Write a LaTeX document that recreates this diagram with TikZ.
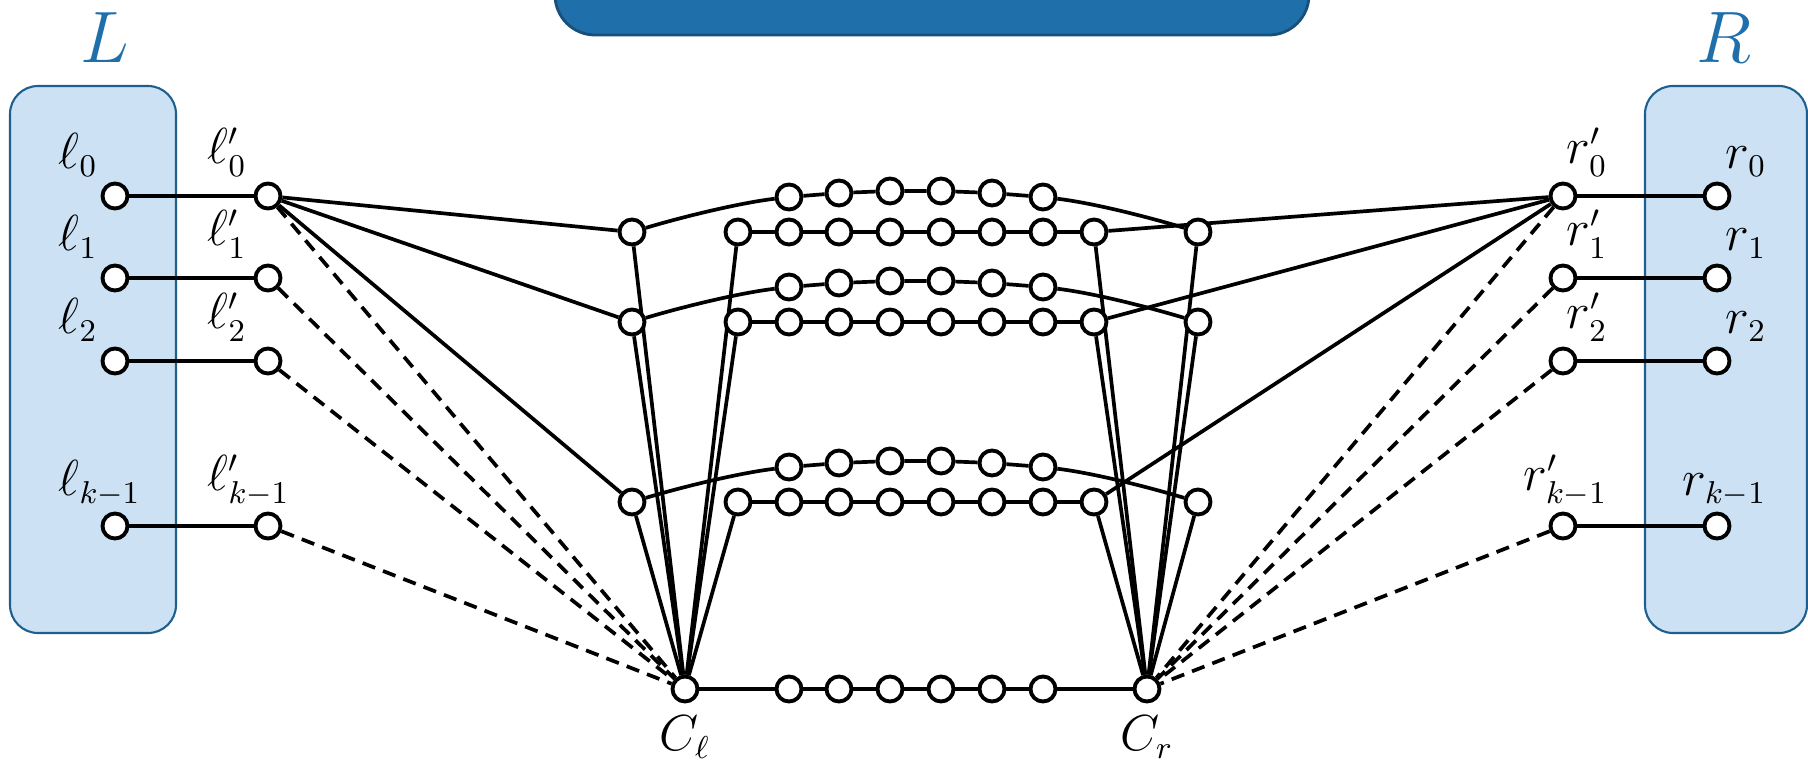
\documentclass[tikz,border=0pt]{standalone}
\usepackage{amsmath,amssymb}
\usepackage{xcolor}
\usepackage{tikz}
\usetikzlibrary{positioning,calc,backgrounds}
\definecolor{cBox}{HTML}{CCE2F4}
\definecolor{cBoxLine}{HTML}{1F5F8E}
\definecolor{cTitle}{HTML}{1F6FAA}
\definecolor{cTitleLine}{HTML}{18507A}
\pgfdeclarelayer{boxes}
\pgfsetlayers{boxes,background,main}
\tikzset{
  vtx/.style={circle, draw=black, line width=1.1pt, fill=white,
              inner sep=0pt, minimum size=2.5mm},
  setbox/.style={draw=cBoxLine, line width=0.6pt, fill=cBox, rounded corners=2.8mm},
  topbox/.style={draw=cTitleLine, line width=0.8pt, fill=cTitle, rounded corners=4mm},
  wire/.style={line width=1.05pt},
  dwire/.style={line width=1.05pt, dash pattern=on 3.8pt off 2.4pt},
  lbl/.style={font=\fontsize{13.5}{16}\selectfont, inner sep=0pt},
  setlbl/.style={font=\fontsize{21}{25}\selectfont, text=cTitle, inner sep=0pt}
}

\begin{document}
\begin{tikzpicture}[x=0.01cm, y=-0.01cm]
\path[use as bounding box, clip] (0,0) rectangle (1808,763);

% the two sets and the banner
\begin{pgfonlayer}{boxes}
\draw[setbox] (10,86) rectangle (176,633);
\draw[setbox] (1645,86) rectangle (1807,633);
\draw[topbox] (555,-60) rectangle (1309,35);
\end{pgfonlayer}
\node[setlbl] (nameL) at (105,38) {$L$};
\node[setlbl] (nameR) at (1724,38) {$R$};

% terminals
\foreach \i/\s/\y in {0/0/196, 1/1/278, 2/2/361, 3/k-1/526} {
  \node[vtx] (l\i) at (115,\y) {};
  \node[vtx] (lp\i) at (268,\y) {};
  \node[vtx] (rp\i) at (1563,\y) {};
  \node[vtx] (r\i) at (1717,\y) {};
  \node[lbl, anchor=south west] (tl\i) at ($(l\i)+(-57,-19)$) {$\ell_{\s}$};
  \node[lbl, anchor=south west] (tlp\i) at ($(lp\i)+(-61,-19)$) {$\ell'_{\s}$};
  \node[lbl, anchor=south east] (trp\i) at ($(rp\i)+(45,-19)$) {$r'_{\s}$};
  \node[lbl, anchor=south east] (tr\i) at ($(r\i)+(50,-19)$) {$r_{\s}$};
}

% three gadgets: straight row b..c, arched row a..d
\foreach \j/\y in {1/232, 2/322, 3/502} {
  \node[vtx] (a\j) at (632,\y) {};
  \node[vtx] (b\j) at (738,\y) {};
  \node[vtx] (c\j) at (1094,\y) {};
  \node[vtx] (d\j) at (1198,\y) {};
  \foreach \k/\x/\h in {1/789/35, 2/839/39, 3/890/41, 4/941/41, 5/992/39, 6/1043/35} {
    \node[vtx] (p\j\k) at (\x,\y) {};
    \node[vtx] (q\j\k) at (\x,\y-\h) {};
  }
}

% bottom path
\node[vtx] (Cl) at (685,689) {};
\node[vtx] (Cr) at (1147,689) {};
\foreach \k/\x in {1/789, 2/839, 3/890, 4/941, 5/992, 6/1043}
  \node[vtx] (z\k) at (\x,689) {};
\node[lbl, below=1.2mm of Cl] (tCl) {$C_\ell$};
\node[lbl, below=1.2mm of Cr] (tCr) {$C_r$};

\begin{scope}[on background layer]
\foreach \i in {0,...,3} {
  \draw[wire] (l\i) -- (lp\i);
  \draw[wire] (rp\i) -- (r\i);
  \draw[dwire] (lp\i) -- (Cl);
  \draw[dwire] (rp\i) -- (Cr);
}
\foreach \j in {1,2,3} {
  \draw[wire] (lp0) -- (a\j);
  \draw[wire] (rp0) -- (c\j);
  \draw[wire] (Cl) -- (a\j);
  \draw[wire] (Cl) -- (b\j);
  \draw[wire] (Cr) -- (c\j);
  \draw[wire] (Cr) -- (d\j);
  \draw[wire] (b\j) -- (p\j1) -- (p\j2) -- (p\j3) -- (p\j4) -- (p\j5) -- (p\j6) -- (c\j);
  \draw[wire] (a\j) .. controls +(50,-15) and +(-50,6) .. (q\j1) -- (q\j2) -- (q\j3)
    -- (q\j4) -- (q\j5) -- (q\j6) .. controls +(50,6) and +(-50,-15) .. (d\j);
}
\draw[wire] (Cl) -- (z1) -- (z2) -- (z3) -- (z4) -- (z5) -- (z6) -- (Cr);
\end{scope}
\end{tikzpicture}
\end{document}
